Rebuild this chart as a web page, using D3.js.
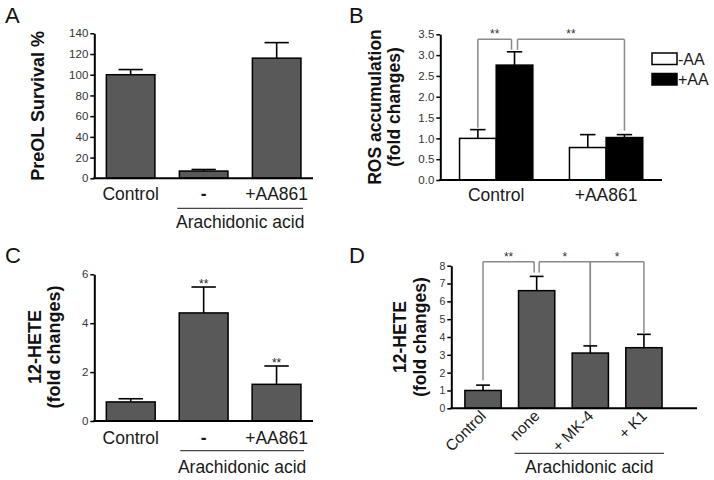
<!DOCTYPE html>
<html><head><meta charset="utf-8">
<script src="https://cdn.jsdelivr.net/npm/d3@7"></script>
<style>body{margin:0;background:#fff}</style>
</head><body><svg id="c" width="714" height="480"></svg>
<script>
// ---------- DATA ----------
const aCategories = ["Control", "-", "+AA861"];
const aValues = [100, 7, 116];
const aErrors = [5, 1.5, 15];
const aTicks = [0, 20, 40, 60, 80, 100, 120, 140];

const bGroups = ["Control", "+AA861"];
const bSeries = ["-AA", "+AA"];
const bMinusAA = [1.0, 0.78];
const bMinusAAErr = [0.21, 0.31];
const bPlusAA = [2.76, 1.02];
const bPlusAAErr = [0.32, 0.07];
const bTicks = [0, 0.5, 1.0, 1.5, 2.0, 2.5, 3.0, 3.5];

const cCategories = ["Control", "-", "+AA861"];
const cValues = [0.78, 4.42, 1.5];
const cErrors = [0.13, 1.06, 0.75];
const cStars = ["", "**", "**"];
const cTicks = [0, 2, 4, 6];

const dCategories = ["Control", "none", "+ MK-4", "+ K1"];
const dValues = [1.0, 6.6, 3.1, 3.4];
const dErrors = [0.3, 0.8, 0.4, 0.75];
const dTicks = [0, 1, 2, 3, 4, 5, 6, 7, 8];

const groupLabel = "Arachidonic acid";

// ---------- STYLE ----------
const F = "'Liberation Sans', Arial, Helvetica, sans-serif";
const BAR = "#595959";
const BRK = "#8a8a8a";
const svg = d3.select("#c");

function yAxis(g, y, x0, ticks, fmt, fs) {
  const ax = g.append("g").attr("transform", `translate(${x0},0)`)
    .call(d3.axisLeft(y).tickValues(ticks).tickFormat(fmt).tickSize(4).tickSizeOuter(0).tickPadding(2));
  ax.select(".domain").attr("stroke", "#000").attr("stroke-width", 2);
  ax.selectAll(".tick line").attr("stroke", "#000").attr("stroke-width", 1.5);
  ax.selectAll(".tick text").attr("font-size", fs).attr("fill", "#333").attr("font-family", F);
  return ax;
}
function xLine(g, y, x0, x1) {
  g.append("line").attr("x1", x0 - 1).attr("x2", x1).attr("y1", y(0)).attr("y2", y(0))
    .attr("stroke", "#000").attr("stroke-width", 2);
}
function bar(g, x, w, y, v, e, fill, capFrac) {
  const cx = x + w / 2, cw = w * capFrac;
  g.append("line").attr("x1", cx).attr("x2", cx).attr("y1", y(v)).attr("y2", y(v + e))
    .attr("stroke", "#000").attr("stroke-width", 1.6);
  g.append("line").attr("x1", cx - cw / 2).attr("x2", cx + cw / 2).attr("y1", y(v + e)).attr("y2", y(v + e))
    .attr("stroke", "#000").attr("stroke-width", 1.6);
  g.append("rect").attr("x", x).attr("y", y(v)).attr("width", w).attr("height", y(0) - y(v))
    .attr("fill", fill).attr("stroke", "#000").attr("stroke-width", 1.5);
}
function yLabel(g, lines, xs, yc, fs) {
  lines.forEach((t, i) => {
    g.append("text").attr("transform", `translate(${xs[i]},${yc}) rotate(-90)`)
      .attr("text-anchor", "middle").attr("dy", "0.36em")
      .attr("font-family", F).attr("font-weight", "bold").attr("font-size", fs).attr("fill", "#111").text(t);
  });
}
function letter(t, x, y) {
  svg.append("text").attr("x", x).attr("y", y).attr("font-family", F).attr("font-size", 22)
    .attr("fill", "#111").text(t);
}
function catLabels(g, xb, cats, y, fs) {
  cats.forEach(c => {
    g.append("text").attr("x", xb(c) + xb.bandwidth() / 2).attr("y", y).attr("text-anchor", "middle")
      .attr("font-family", F).attr("font-size", fs).attr("fill", "#1a1a1a")
      .attr("font-weight", c === "-" ? "bold" : "normal").text(c);
  });
}
function groupMark(g, x0, x1, ly, ty) {
  g.append("line").attr("x1", x0).attr("x2", x1).attr("y1", ly).attr("y2", ly)
    .attr("stroke", "#444").attr("stroke-width", 1.2);
  g.append("text").attr("x", (x0 + x1) / 2).attr("y", ty).attr("text-anchor", "middle")
    .attr("font-family", F).attr("font-size", 17.5).attr("fill", "#1a1a1a").text(groupLabel);
}
function bracket(g, pts, top, label, sx) {
  const xs = pts.map(p => p[0]);
  const xmin = d3.min(xs), xmax = d3.max(xs);
  g.append("line").attr("x1", xmin).attr("x2", xmax).attr("y1", top).attr("y2", top)
    .attr("stroke", BRK).attr("stroke-width", 1.5);
  pts.forEach(p => g.append("line").attr("x1", p[0]).attr("x2", p[0]).attr("y1", top).attr("y2", p[1])
    .attr("stroke", BRK).attr("stroke-width", 1.5));
  g.append("text").attr("x", sx).attr("y", top - 1).attr("text-anchor", "middle")
    .attr("font-family", F).attr("font-size", 12).attr("fill", "#333").text(label);
}

// ---------- PANEL A ----------
{
  const g = svg.append("g");
  const x0 = 94.3, x1 = 313;
  const y = d3.scaleLinear().domain([0, 140]).range([178.3, 33.3]);
  const xb = d3.scaleBand().domain(aCategories).range([x0, x1]).paddingInner(0.335).paddingOuter(0.165);
  aCategories.forEach((c, i) => bar(g, xb(c), xb.bandwidth(), y, aValues[i], aErrors[i], BAR, 0.5));
  xLine(g, y, x0, x1);
  yAxis(g, y, x0, aTicks, d3.format("d"), 11.5);
  yLabel(g, ["PreOL Survival %"], [38], 105.8, 18);
  catLabels(g, xb, aCategories, 200, 17.5);
  groupMark(g, xb("-") - 2, xb("+AA861") + xb.bandwidth() + 2, 208.3, 228);
  letter("A", 5, 23);
}

// ---------- PANEL B ----------
{
  const g = svg.append("g");
  const x0 = 440.3, x1 = 662;
  const y = d3.scaleLinear().domain([0, 3.5]).range([180, 34.3]);
  const xg = d3.scaleBand().domain(bGroups).range([x0, x1]).paddingInner(0.333).paddingOuter(0.175);
  const xs = d3.scaleBand().domain(bSeries).range([0, xg.bandwidth()]);
  const vals = { "-AA": bMinusAA, "+AA": bPlusAA };
  const errs = { "-AA": bMinusAAErr, "+AA": bPlusAAErr };
  const fills = { "-AA": "#fff", "+AA": "#000" };
  bGroups.forEach((gname, i) => bSeries.forEach(s => {
    bar(g, xg(gname) + xs(s), xs.bandwidth(), y, vals[s][i], errs[s][i], fills[s], 0.42);
  }));
  xLine(g, y, x0, x1);
  yAxis(g, y, x0, bTicks, d3.format(".1f"), 11.5);
  yLabel(g, ["ROS accumulation", "(fold changes)"], [375, 394], 107, 17.5);
  catLabels(g, xg, bGroups, 200.5, 17.5);
  const cx = (gname, s) => xg(gname) + xs(s) + xs.bandwidth() / 2;
  const top = y(3.38);
  const l1 = cx("Control", "-AA"), r1 = cx("Control", "+AA") - 3;
  bracket(g, [[l1, y(bMinusAA[0] + bMinusAAErr[0]) - 2], [r1, y(bPlusAA[0] + bPlusAAErr[0]) - 2]], top, "**", (l1 + r1) / 2);
  const l2 = cx("Control", "+AA") + 3, r2 = cx("+AA861", "+AA");
  bracket(g, [[l2, y(bPlusAA[0] + bPlusAAErr[0]) - 2], [r2, y(bPlusAA[1] + bPlusAAErr[1]) - 4]], top, "**", (l2 + r2) / 2);
  const lg = g.append("g").attr("transform", "translate(652,53)");
  bSeries.forEach((s, i) => {
    lg.append("rect").attr("x", 0).attr("y", i * 20.5).attr("width", 25).attr("height", 11.5)
      .attr("fill", fills[s]).attr("stroke", "#000").attr("stroke-width", 1.5);
    lg.append("text").attr("x", 26).attr("y", i * 20.5 + 11.5).attr("font-family", F)
      .attr("font-size", 16).attr("fill", "#1a1a1a").text(s);
  });
  letter("B", 349, 23);
}

// ---------- PANEL C ----------
{
  const g = svg.append("g");
  const x0 = 94.3, x1 = 313;
  const y = d3.scaleLinear().domain([0, 6]).range([421, 274.3]);
  const xb = d3.scaleBand().domain(cCategories).range([x0, x1]).paddingInner(0.33).paddingOuter(0.165);
  cCategories.forEach((c, i) => {
    bar(g, xb(c), xb.bandwidth(), y, cValues[i], cErrors[i], BAR, 0.5);
    if (cStars[i]) g.append("text").attr("x", xb(c) + xb.bandwidth() / 2).attr("y", y(cValues[i] + cErrors[i]) + 1)
      .attr("text-anchor", "middle").attr("font-family", F).attr("font-size", 12).attr("fill", "#222").text(cStars[i]);
  });
  xLine(g, y, x0, x1);
  yAxis(g, y, x0, cTicks, d3.format("d"), 11.5);
  yLabel(g, ["12-HETE", "(fold changes)"], [35, 54], 347, 18);
  catLabels(g, xb, cCategories, 443.5, 17.5);
  groupMark(g, xb("-") + 1, xb("+AA861") + xb.bandwidth() + 3, 450.7, 472.7);
  letter("C", 5, 263);
}

// ---------- PANEL D ----------
{
  const g = svg.append("g");
  const x0 = 451.3, x1 = 697;
  const y = d3.scaleLinear().domain([0, 8]).range([408.3, 265.7]);
  const xb = d3.scaleBand().domain(dCategories).range([x0, x1]).paddingInner(0.324).paddingOuter(0.4525).align(0.28);
  dCategories.forEach((c, i) => bar(g, xb(c), xb.bandwidth(), y, dValues[i], dErrors[i], BAR, 0.38));
  xLine(g, y, x0, x1);
  yAxis(g, y, x0, dTicks, d3.format("d"), 10.5);
  yLabel(g, ["12-HETE", "(fold changes)"], [400, 420], 337, 17.5);
  dCategories.forEach(c => {
    const cx = xb(c) + xb.bandwidth() / 2;
    g.append("text").attr("transform", `translate(${cx + 4},417) rotate(-45)`).attr("text-anchor", "end")
      .attr("font-family", F).attr("font-size", 15.5).attr("fill", "#1a1a1a").text(c);
  });
  groupMark(g, xb("none") - 4, xb("+ K1") + xb.bandwidth() + 2, 453.3, 473.3);
  const cx = c => xb(c) + xb.bandwidth() / 2;
  const errTop = i => y(dValues[i] + dErrors[i]);
  const top = y(8.22);
  const l1 = cx("Control"), r1 = cx("none") - 2.5;
  bracket(g, [[l1, errTop(0) - 5], [r1, errTop(1) - 4]], top, "**", (l1 + r1) / 2);
  const l2 = cx("none") + 2.5, m2 = cx("+ MK-4"), r2 = cx("+ K1");
  bracket(g, [[l2, errTop(1) - 4], [m2, errTop(2) - 1]], top, "*", (l2 + m2) / 2);
  bracket(g, [[m2, errTop(2) - 1], [r2, errTop(3) - 1]], top, "*", (m2 + r2) / 2);
  letter("D", 349, 263);
}
</script></body></html>
